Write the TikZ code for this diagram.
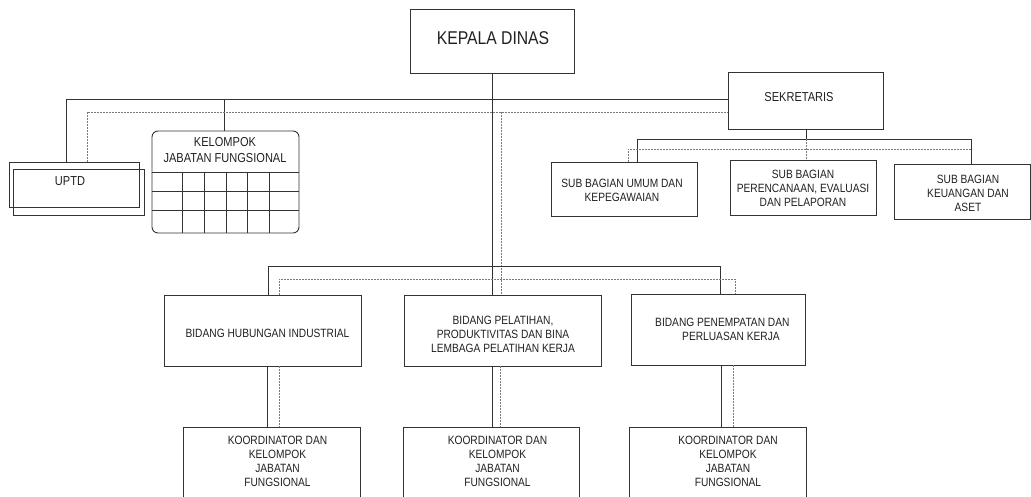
\documentclass[tikz,border=0pt]{standalone}
\usepackage{fontspec}
\setmainfont[FakeStretch=0.85]{Liberation Sans}
\usetikzlibrary{calc}
\definecolor{ln}{HTML}{333333}
\definecolor{dl}{HTML}{7A7A7A}
\definecolor{tx}{HTML}{202020}
\begin{document}
\begin{tikzpicture}[x=1pt,y=-1pt,
  box/.style={draw=ln, line width=0.9pt, inner sep=0pt},
  conn/.style={draw=ln, line width=0.85pt},
  dconn/.style={draw=dl, line width=0.8pt, dash pattern=on 2pt off 1pt},
  lbl/.style={inner sep=0pt, text=tx, align=center, font=\fontsize{12}{14}\selectfont},
  lblbig/.style={lbl, font=\fontsize{13}{16}\selectfont}]
\clip (0,0) rectangle (1031,496);
% boxes
\node[box, minimum width=164pt, minimum height=64pt] (kepala) at (492,41) {};
\node[lbl, font=\fontsize{18.5}{20}\selectfont] (kepalat) at (493,38) {KEPALA DINAS};
\node[box, minimum width=155pt, minimum height=57pt] (sekr) at (805.5,100.5) {};
\node[lblbig] (sekrt) at (799,97) {SEKRETARIS};
\node[box, minimum width=146pt, minimum height=54pt] (sub1) at (624,189) {};
\node[lbl] (sub1t) at (622,190) {SUB BAGIAN UMUM DAN\\KEPEGAWAIAN};
\node[box, minimum width=146pt, minimum height=55pt] (sub2) at (803,187.5) {};
\node[lbl] (sub2t) at (803,188.5) {SUB BAGIAN\\PERENCANAAN, EVALUASI\\DAN PELAPORAN};
\node[box, minimum width=136pt, minimum height=55pt] (sub3) at (962,191.5) {};
\node[lbl] (sub3t) at (968,193) {SUB BAGIAN\\KEUANGAN DAN\\ASET};
\node[box, minimum width=130pt, minimum height=45pt] (uptd) at (74,184.5) {};
\node[box, minimum width=131pt, minimum height=46pt] (uptdb) at (78.5,192) {};
\node[lblbig] (uptdt) at (70,181) {UPTD};
\node[box, rounded corners=6pt, minimum width=147pt, minimum height=102pt] (kjf) at (225.5,182) {};
\node[lblbig] (kjft) at (225,150) {KELOMPOK\\JABATAN FUNGSIONAL};
\foreach \yy in {172,191,210} \draw[conn] (kjf.west |- 0,\yy) -- (kjf.east |- 0,\yy);
\foreach \xx in {182,204,226,247,269} \draw[conn] (\xx,172) -- (kjf.south -| \xx,0);
\node[box, minimum width=197pt, minimum height=71pt] (bid1) at (262.5,330.5) {};
\node[lbl] (bid1t) at (267.5,333) {BIDANG HUBUNGAN INDUSTRIAL};
\node[box, minimum width=197pt, minimum height=71pt] (bid2) at (502.5,330.5) {};
\node[lbl] (bid2t) at (503,334) {BIDANG PELATIHAN,\\PRODUKTIVITAS DAN BINA\\LEMBAGA PELATIHAN KERJA};
\node[box, minimum width=174pt, minimum height=71pt] (bid3) at (718,329.5) {};
\node[lbl, anchor=west, align=left] (bid3t) at (655,329) {BIDANG PENEMPATAN DAN\\\hspace*{27pt}PERLUASAN KERJA};
\node[box, minimum width=177pt, minimum height=73pt] (ko1) at (271.5,463.5) {};
\node[lbl] (ko1t) at (277.5,461) {KOORDINATOR DAN\\KELOMPOK\\JABATAN\\FUNGSIONAL};
\node[box, minimum width=176pt, minimum height=73pt] (ko2) at (491,463.5) {};
\node[lbl] (ko2t) at (497.5,461) {KOORDINATOR DAN\\KELOMPOK\\JABATAN\\FUNGSIONAL};
\node[box, minimum width=177pt, minimum height=73pt] (ko3) at (717.5,463.5) {};
\node[lbl] (ko3t) at (728,461) {KOORDINATOR DAN\\KELOMPOK\\JABATAN\\FUNGSIONAL};
% connectors top
\draw[conn] (uptd.north -| 66,0) |- (sekr.west |- 0,99);
\draw[conn] (kjf.north -| 224,0) -- (224,99);
\draw[dconn] (uptd.north -| 87,0) |- (sekr.west |- 0,112);
\draw[conn] (kepala.south) -- (bid2.north -| kepala.south);
\coordinate (dj) at (501,112);
\draw[dconn] (dj) -- (bid2.north -| dj);
% bidang bus
\draw[conn] (bid1.north -| 268,0) -- (268,266) -- (720,266) -- (bid3.north -| 720,0);
\draw[dconn] (bid1.north -| 279,0) -- (279,279) -- (735,279) -- (bid3.north -| 735,0);
% sekretaris bus
\coordinate (sj) at (806,139);
\draw[conn] (sekr.south -| sj) -- (sj);
\draw[conn] (sub1.north -| 637,0) -- (637,139) -- (971,139) -- (sub3.north -| 971,0);
\draw[dconn] (sj) -- (sub2.north -| sj);
\draw[dconn] (sub1.north -| 628,0) -- (628,149) -- (971,149);
% bidang to koordinator
\draw[conn] (bid1.south -| 267,0) -- (ko1.north -| 267,0);
\draw[dconn] (bid1.south -| 279,0) -- (ko1.north -| 279,0);
\draw[conn] (bid2.south -| 492,0) -- (ko2.north -| 492,0);
\draw[dconn] (bid2.south -| 500,0) -- (ko2.north -| 500,0);
\draw[conn] (bid3.south -| 721,0) -- (ko3.north -| 721,0);
\draw[dconn] (bid3.south -| 733,0) -- (ko3.north -| 733,0);
\end{tikzpicture}
\end{document}
